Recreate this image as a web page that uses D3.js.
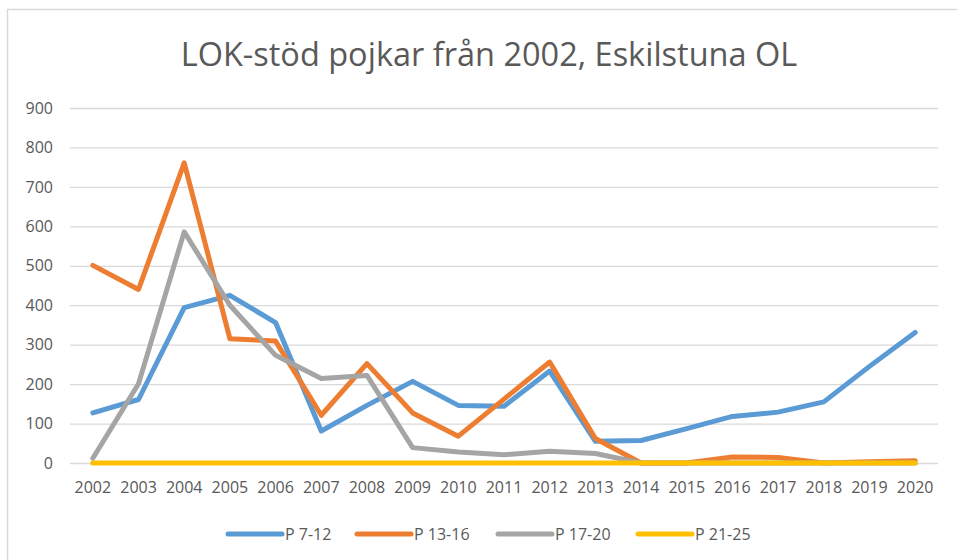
<!DOCTYPE html>
<html>
<head>
<meta charset="utf-8">
<title>LOK-stöd pojkar</title>
<script src="https://d3js.org/d3.v7.min.js"></script>
<style>
  body { margin: 0; background: #fff; }
  text { font-family: 'Open Sans', sans-serif; fill: #595959; }
</style>
</head>
<body>
<div id="chart"></div>
<script>
// data ............................................
var years = ['2002','2003','2004','2005','2006','2007','2008','2009','2010','2011',
             '2012','2013','2014','2015','2016','2017','2018','2019','2020'];
var p7_12  = [127, 161, 394, 425, 356, 81, 146, 207, 146, 144, 233, 55, 57, 87, 118, 129, 155, 245, 331];
var p13_16 = [501, 440, 761, 315, 309, 121, 252, 127, 68, 162, 256, 62, 0, 0, 15, 14, 0, 3, 6];
var p17_20 = [12, 201, 586, 400, 273, 214, 222, 39, 28, 21, 30, 24, 0, 0, 0, 0, 0, 0, 0];
var p21_25 = [0, 0, 0, 0, 0, 0, 0, 0, 0, 0, 0, 0, 0, 0, 0, 0, 0, 0, 0];
var yTicks = [0, 100, 200, 300, 400, 500, 600, 700, 800, 900];
var seriesNames = ['P 7-12', 'P 13-16', 'P 17-20', 'P 21-25'];
var seriesValues = [p7_12, p13_16, p17_20, p21_25];
var colors = ['#5b9bd5', '#ed7d31', '#a5a5a5', '#ffc000'];

var W = 957, H = 560;
var margin = { top: 108, left: 70, right: 19, bottom: 97 };
var width = W - margin.left - margin.right;
var height = H - margin.top - margin.bottom;

var svg = d3.select('#chart').append('svg')
  .attr('width', W).attr('height', H);

// chart border
svg.append('rect')
  .attr('x', 7.5).attr('y', 9.5)
  .attr('width', W + 20).attr('height', H + 20)
  .attr('fill', 'none').attr('stroke', '#d9d9d9').attr('stroke-width', 1.5);

// title
svg.append('text')
  .attr('x', 489).attr('y', 66)
  .attr('text-anchor', 'middle')
  .style('font-size', '32.5px')
  .text('LOK-stöd pojkar från 2002, Eskilstuna OL');

var g = svg.append('g')
  .attr('transform', 'translate(' + margin.left + ',' + margin.top + ')');

var xScale = d3.scaleBand().domain(years).range([0, width]);
var yScale = d3.scaleLinear().domain([0, 900]).range([height, 0]);

// grid
g.append('g')
  .call(d3.axisLeft(yScale).tickValues(yTicks).tickSize(-width).tickFormat(''))
  .call(function(a) {
    a.select('.domain').remove();
    a.selectAll('line').attr('stroke', '#d9d9d9').attr('stroke-width', 1.3);
  });

// y axis labels
g.append('g')
  .call(d3.axisLeft(yScale).tickValues(yTicks).tickSize(0).tickPadding(17))
  .call(function(a) {
    a.select('.domain').remove();
    a.selectAll('text').style('font-size', '16px').attr('fill', '#595959');
  });

// x axis labels
g.append('g')
  .attr('transform', 'translate(0,' + height + ')')
  .call(d3.axisBottom(xScale).tickSize(0).tickPadding(19))
  .call(function(a) {
    a.select('.domain').remove();
    a.selectAll('text').style('font-size', '16px').attr('fill', '#595959');
  });

// lines
var line = d3.line()
  .x(function(d, i) { return xScale(years[i]) + xScale.bandwidth() / 2; })
  .y(function(d) { return yScale(d); });

seriesValues.forEach(function(vals, k) {
  g.append('path')
    .datum(vals)
    .attr('d', line)
    .attr('fill', 'none')
    .attr('stroke', colors[k])
    .attr('stroke-width', 5)
    .attr('stroke-linejoin', 'round')
    .attr('stroke-linecap', 'round');
});

// legend
var legendX = [228, 357, 498, 638];
var legend = svg.append('g').attr('transform', 'translate(0,534)');
seriesNames.forEach(function(name, k) {
  legend.append('line')
    .attr('x1', legendX[k]).attr('x2', legendX[k] + 54)
    .attr('y1', 0).attr('y2', 0)
    .attr('stroke', colors[k]).attr('stroke-width', 5)
    .attr('stroke-linecap', 'round');
  legend.append('text')
    .attr('x', legendX[k] + 57).attr('y', 6)
    .style('font-size', '16px')
    .text(name);
});
</script>
</body>
</html>
